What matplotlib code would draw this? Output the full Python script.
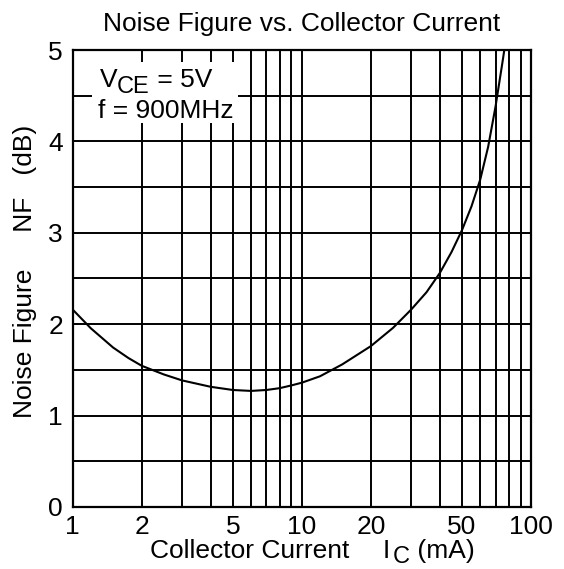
import matplotlib
matplotlib.use("Agg")
import matplotlib.pyplot as plt
from matplotlib.patches import Rectangle
from matplotlib.ticker import FixedLocator, NullFormatter, MultipleLocator

# Valores (Ic en mA, NF en dB)
ic_ma = [1, 1.2, 1.5, 1.75, 2, 2.5, 3, 4, 5, 6, 7, 8, 9, 10, 12, 15, 20, 25,
         30, 35, 40, 45, 50, 55, 60, 65, 70, 75, 77]
nf_db = [2.16, 1.955, 1.745, 1.63, 1.545, 1.45, 1.385, 1.315, 1.28, 1.27, 1.28,
         1.30, 1.33, 1.36, 1.43, 1.56, 1.76, 1.96, 2.16, 2.35, 2.56, 2.79,
         3.03, 3.29, 3.58, 3.94, 4.38, 4.86, 5.05]

x_ticks = [1, 2, 5, 10, 20, 50, 100]
x_minor = [1, 2, 3, 4, 5, 6, 7, 8, 9, 10, 20, 30, 40, 50, 60, 70, 80, 90, 100]
y_ticks = [0, 1, 2, 3, 4, 5]

plt.rcParams['font.family'] = ['Liberation Sans', 'DejaVu Sans']
FS = 19
FS_SUB = 17

fig = plt.figure(figsize=(5.64, 5.69), dpi=100)
ax = fig.add_axes([0.1289, 0.109, 0.8126, 0.8031])

ax.set_xscale("log")
ax.set_xlim(1, 100)
ax.set_ylim(0, 5)

ax.xaxis.set_major_locator(FixedLocator(x_ticks))
ax.xaxis.set_minor_locator(FixedLocator(x_minor))
ax.xaxis.set_minor_formatter(NullFormatter())
ax.set_xticklabels([str(t) for t in x_ticks])
ax.yaxis.set_major_locator(FixedLocator(y_ticks))
ax.yaxis.set_minor_locator(MultipleLocator(0.5))

ax.tick_params(which="both", length=0, labelsize=FS)
ax.tick_params(axis="x", pad=6)
ax.tick_params(axis="y", pad=7)
ax.grid(which="both", color="black", linewidth=1.4)
ax.set_axisbelow(True)
for s in ax.spines.values():
    s.set_linewidth(1.6)

ax.plot(ic_ma, nf_db, color="black", linewidth=1.5, zorder=3)

ax.set_title("Noise Figure vs. Collector Current", fontsize=FS, pad=13.5)

# etiqueta del eje y
ax.set_ylabel("Noise Figure     NF   (dB)", fontsize=FS)
ax.yaxis.set_label_coords(-0.078, 0.516)

# etiqueta del eje x con subindice grande
base_y = 1 - 558 / 569
fig.text(150 / 564, base_y, "Collector Current", fontsize=FS, va="baseline")
t_i = fig.text(383 / 564, base_y, "I", fontsize=FS, va="baseline")
t_c = ax.annotate("C", xy=(1, 0), xycoords=t_i, xytext=(1.5, -3.5), textcoords="offset points",
                  fontsize=FS_SUB, va="bottom", ha="left", annotation_clip=False)
ax.annotate(" (mA)", xy=(1, 0), xycoords=(t_c, t_i), xytext=(0.5, 0), textcoords="offset points",
            fontsize=FS, va="bottom", ha="left", annotation_clip=False)

# recuadro con las condiciones
ax.add_patch(Rectangle((1.214, 4.2), 5.27 - 1.214, 0.67, facecolor="white",
                       edgecolor="none", zorder=2))
t_v = ax.text(1.31, 4.6, "V", fontsize=FS, va="baseline", ha="left", zorder=5)
t_ce = ax.annotate("CE", xy=(1, 0), xycoords=t_v, xytext=(0, -4.8), textcoords="offset points",
                   fontsize=FS_SUB, va="bottom", ha="left", zorder=5)
ax.annotate(" = 5V", xy=(1, 0), xycoords=(t_ce, t_v), xytext=(0, 0), textcoords="offset points",
            fontsize=FS, va="bottom", ha="left", zorder=5)
ax.text(1.29, 4.26, "f = 900MHz", fontsize=FS, va="baseline", ha="left", zorder=5)

fig.savefig("out.png", dpi=100)
